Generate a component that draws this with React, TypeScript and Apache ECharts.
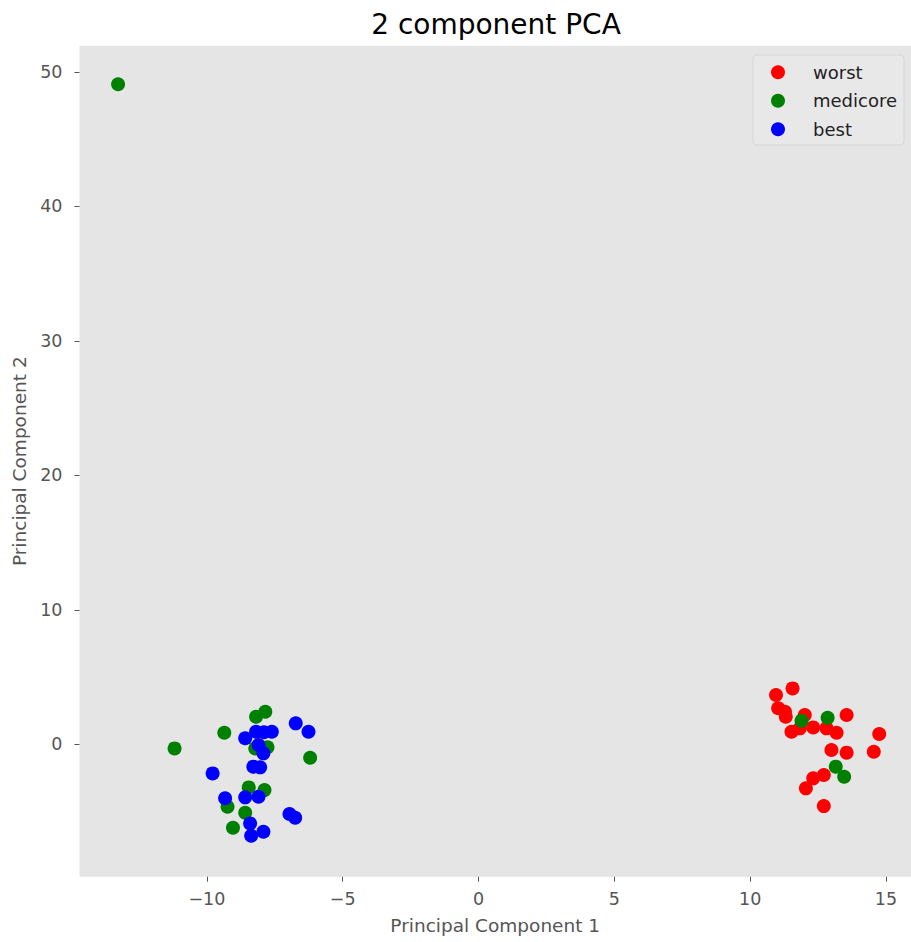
import React, { useEffect, useRef } from "react";
import * as echarts from "echarts";

const TITLE = "2 component PCA";
const X_NAME = "Principal Component 1";
const Y_NAME = "Principal Component 2";
const X_TICKS = [-10, -5, 0, 5, 10, 15];
const Y_TICKS = [0, 10, 20, 30, 40, 50];
const SERIES_NAMES = ["worst", "medicore", "best"];
const SERIES_COLORS = ["#ff0000", "#008000", "#0000ff"];

const worstPoints: [number, number][] = [
  [10.95, 3.67], [11.56, 4.16], [11.03, 2.68], [11.28, 2.42], [11.31, 2.05],
  [12.01, 2.18], [11.52, 0.94], [11.83, 1.19], [12.32, 1.26], [12.81, 1.19],
  [13.18, 0.86], [13.55, 2.18], [14.75, 0.77], [12.99, -0.42], [13.55, -0.62],
  [14.55, -0.55], [12.71, -2.28], [12.32, -2.53], [12.05, -3.27], [12.71, -4.59],
];

const medicorePoints: [number, number][] = [
  [-13.27, 49.07], [-11.19, -0.3], [-9.36, 0.86], [-8.19, 2.05], [-7.85, 2.42],
  [-8.22, -0.3], [-7.77, -0.22], [-6.2, -1.0], [-8.46, -3.2], [-7.88, -3.4],
  [-9.24, -4.64], [-8.59, -5.09], [-9.04, -6.2], [11.89, 1.76], [12.85, 1.98],
  [13.15, -1.66], [13.46, -2.41],
];

const bestPoints: [number, number][] = [
  [-6.73, 1.56], [-6.26, 0.94], [-8.59, 0.45], [-8.19, 0.94], [-7.9, 0.9],
  [-7.61, 0.94], [-8.1, -0.05], [-7.92, -0.67], [-8.29, -1.66], [-8.04, -1.71],
  [-9.79, -2.16], [-9.33, -4.01], [-8.59, -3.94], [-8.1, -3.9], [-6.96, -5.18],
  [-6.75, -5.46], [-8.41, -5.88], [-7.92, -6.5], [-8.37, -6.8],
];

const SERIES_DATA = [worstPoints, medicorePoints, bestPoints];

const FONT = "DejaVu Sans";
const minus = (v: number) => String(v).replace("-", "\u2212");

export default function App() {
  const ref = useRef<HTMLDivElement>(null);
  useEffect(() => {
    if (!ref.current) return;
    const chart = echarts.init(ref.current, undefined, { renderer: "svg" });
    chart.setOption({
      animation: false,
      backgroundColor: "#ffffff",
      textStyle: { fontFamily: FONT },
      graphic: [
        {
          type: "text",
          x: 496,
          y: 24,
          style: {
            text: TITLE,
            fontFamily: FONT,
            fontSize: 28,
            fill: "#000000",
            align: "center",
            verticalAlign: "middle",
          },
        },
      ],
      grid: {
        left: 79.5,
        top: 45.7,
        right: 0,
        height: 831,
        show: true,
        backgroundColor: "#e5e5e5",
        borderWidth: 0,
      },
      legend: {
        data: SERIES_NAMES,
        orient: "vertical",
        left: 753,
        top: 55,
        icon: "circle",
        itemWidth: 14,
        itemHeight: 14,
        itemGap: 10.5,
        padding: [8.3, 7, 6.7, 18],
        backgroundColor: "#e8e8e8",
        borderColor: "#d6d6d6",
        borderWidth: 1,
        borderRadius: 4,
        textStyle: {
          fontFamily: FONT,
          fontSize: 18,
          lineHeight: 18,
          color: "#222222",
          padding: [0, 0, 0, 23],
        },
      },
      xAxis: {
        type: "value",
        min: -14.69,
        max: 15.92,
        name: X_NAME,
        nameLocation: "middle",
        nameGap: 39,
        nameTextStyle: { fontFamily: FONT, fontSize: 18.5, color: "#555555" },
        axisLine: { show: false, onZero: false },
        splitLine: { show: false },
        axisTick: {
          show: true,
          length: 5,
          lineStyle: { color: "#555555", width: 1 },
          customValues: X_TICKS,
        },
        axisLabel: {
          fontFamily: FONT,
          fontSize: 17.5,
          color: "#555555",
          margin: 13,
          customValues: X_TICKS,
          formatter: (v: number) => minus(v),
        },
      },
      yAxis: {
        type: "value",
        min: -9.84,
        max: 51.94,
        name: Y_NAME,
        nameLocation: "middle",
        nameGap: 49,
        nameRotate: 90,
        nameTextStyle: { fontFamily: FONT, fontSize: 18.5, color: "#555555" },
        axisLine: { show: false, onZero: false },
        splitLine: { show: false },
        axisTick: {
          show: true,
          length: 5,
          lineStyle: { color: "#555555", width: 1 },
          customValues: Y_TICKS,
        },
        axisLabel: {
          fontFamily: FONT,
          fontSize: 17.5,
          color: "#555555",
          margin: 17,
          customValues: Y_TICKS,
          formatter: (v: number) => minus(v),
        },
      },
      series: SERIES_NAMES.map((name, i) => ({
        name,
        type: "scatter",
        data: SERIES_DATA[i],
        symbol: "circle",
        symbolSize: 14,
        itemStyle: { color: SERIES_COLORS[i], opacity: 1 },
        emphasis: { disabled: true },
      })),
    });
    return () => chart.dispose();
  }, []);
  return (
    <div
      ref={ref}
      style={{ position: "absolute", left: 0, top: 0, width: 911, height: 942 }}
    />
  );
}
